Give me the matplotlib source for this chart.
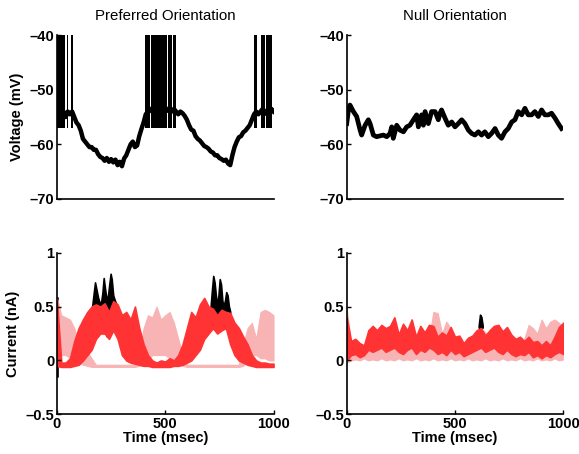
import numpy as np
import matplotlib
matplotlib.use("Agg")
import matplotlib.pyplot as plt

plt.rcParams['font.family'] = ['Liberation Sans', 'DejaVu Sans']

# ---- top left: preferred orientation, membrane voltage (mV), sampled every 10 ms
t_pref = np.arange(0, 1001, 10)
v_pref = [-55, -54, -55, -54, -55, -54, -54.5, -54, -55, -56,
          -56.5, -57.5, -59, -59.5, -60, -60.5, -60.5, -61, -61, -61.8,
          -62.3, -62.5, -63, -62.5, -63.2, -62.7, -63.3, -62.8, -63.8, -63.2,
          -64, -62.6, -62, -61, -60, -59.5, -60.5, -60.2, -58.5, -57.2,
          -56, -54.5, -54, -53.5, -54, -54.5, -54, -53.5, -54, -54.5,
          -54, -53.5, -54, -54, -53.5, -54, -54.5, -54, -54.3, -54.8,
          -55.5, -56.5, -57.3, -57.5, -58.5, -59, -59.3, -59.8, -60.3, -60.5,
          -60.8, -61.3, -61.5, -62, -62, -62.5, -62.7, -63, -62.8, -63.5,
          -63.8, -62, -60.5, -59.5, -58.7, -58.5, -57.8, -57.5, -57, -56.5,
          -55.5, -54.5, -54, -54.5, -54, -53.5, -54, -54.5, -54, -53.5,
          -54]
# spike bursts (ms): spikes run from reset level up past the -40 clip
burst_start = [0, 47, 63, 407, 432, 514, 537, 912, 940, 966]
burst_end = [37, 52, 72, 428, 508, 531, 551, 924, 962, 995]
spike_floor = -57
spike_top = -40

# ---- top right: null orientation voltage
t_null = [0, 8, 15, 31, 46, 62, 69, 85, 100, 108, 123, 138, 169, 185, 200, 208,
          215, 231, 246, 262, 277, 292, 308, 323, 331, 346, 354, 362, 377, 392,
          408, 423, 431, 438, 454, 469, 485, 500, 515, 531, 546, 562, 577, 592,
          608, 623, 638, 654, 669, 685, 700, 715, 731, 746, 762, 777, 792, 808,
          823, 838, 854, 869, 885, 900, 915, 931, 946, 962, 977, 992]
v_null = [-56.2, -53.7, -52.8, -54, -54.9, -57.4, -58.3, -56.5, -55.5, -56.2,
          -58.3, -58.6, -58.3, -58.6, -58, -56.8, -58.9, -56.5, -57.4, -57.7,
          -56.8, -56.5, -55.5, -54.6, -56.8, -54.6, -56.5, -54, -56.2, -54,
          -54, -55.5, -54.3, -53.7, -55.2, -56.5, -55.9, -56.8, -56.2, -55.5,
          -56.2, -57.4, -58, -58.3, -57.7, -58.3, -57.7, -58.6, -58, -57.1,
          -58.3, -58.9, -57.7, -57.1, -55.9, -55.5, -54, -54.6, -53.4, -54.6,
          -54.6, -54, -54.9, -53.7, -54.6, -54.6, -54.3, -55.2, -56.2, -57.1]

# ---- bottom: synaptic currents (nA), band envelopes sampled every 20 ms
t_cur = np.arange(0, 1001, 20)

pref_red_lo = [-0.05, -0.06, -0.06, -0.06, -0.05, -0.04, 0.0, 0.05, 0.1, 0.2,
               0.25, 0.25, 0.2, 0.28, 0.2, 0.05, 0.0, -0.02, -0.03, -0.04,
               -0.05, -0.05, -0.06, -0.06, -0.06, -0.06, -0.06, -0.05, -0.05, -0.04,
               -0.02, 0.0, 0.05, 0.1, 0.2, 0.25, 0.3, 0.25, 0.28, 0.3,
               0.15, 0.05, 0.0, -0.02, -0.04, -0.05, -0.06, -0.06, -0.06, -0.06,
               -0.06]
pref_red_hi = [0.55, -0.02, -0.02, 0.02, 0.18, 0.30, 0.38, 0.45, 0.50, 0.52,
               0.50, 0.53, 0.45, 0.55, 0.52, 0.42, 0.45, 0.38, 0.50, 0.30,
               0.15, 0.05, 0.0, -0.02, 0.0, -0.01, 0.02, 0.0, 0.05, 0.15,
               0.30, 0.45, 0.40, 0.52, 0.58, 0.50, 0.48, 0.42, 0.47, 0.45,
               0.44, 0.35, 0.30, 0.22, 0.15, 0.05, 0.0, -0.02, -0.02, -0.03,
               -0.03]
pref_pink_lo = [0.0, 0.05, 0.05, 0.02, 0.0, -0.02, -0.04, -0.05, -0.06, -0.06,
                -0.06, -0.06, -0.06, -0.06, -0.06, -0.06, -0.06, -0.06, -0.06, -0.05,
                -0.04, 0.0, 0.05, 0.05, 0.05, 0.05, 0.02, 0.0, -0.03, -0.05,
                -0.06, -0.06, -0.06, -0.06, -0.06, -0.06, -0.06, -0.06, -0.06, -0.06,
                -0.06, -0.06, -0.06, -0.05, 0.0, 0.05, 0.05, 0.02, 0.02, 0.0,
                0.0]
pref_pink_hi = [0.58, 0.42, 0.40, 0.38, 0.30, 0.15, 0.10, 0.08, 0.02, -0.04,
                -0.04, -0.04, -0.04, -0.04, -0.04, -0.04, -0.04, -0.04, -0.04, 0.10,
                0.30, 0.42, 0.40, 0.50, 0.38, 0.42, 0.45, 0.35, 0.20, 0.05,
                -0.04, -0.04, -0.04, -0.04, -0.04, -0.04, -0.04, -0.04, -0.04, -0.04,
                -0.04, -0.04, -0.04, 0.15, 0.30, 0.35, 0.20, 0.45, 0.47, 0.45,
                0.42]
# net current, only visible where it pokes out of the excitatory band
pref_black_t = [0, 4, np.nan,
                165, 172, 178, 185, 192, 198, 205, 212, 218, 225, 232, 238, 245,
                250, 255, 262, 270, 280, np.nan,
                712, 718, 724, 730, 736, 742, 748, 754, 760, 766, 772, 778, 784,
                790, 796, 802]
pref_black_lo = [-0.15, -0.15, np.nan,
                 0.45, 0.45, 0.45, 0.45, 0.45, 0.45, 0.45, 0.45, 0.40, 0.30, 0.22,
                 0.22, 0.40, 0.45, 0.45, 0.45, 0.45, 0.45, np.nan,
                 0.45, 0.45, 0.45, 0.42, 0.38, 0.35, 0.35, 0.40, 0.45, 0.45, 0.45,
                 0.45, 0.45, 0.45, 0.45, 0.42]
pref_black_hi = [0.58, 0.58, np.nan,
                 0.50, 0.62, 0.72, 0.65, 0.58, 0.54, 0.52, 0.62, 0.76, 0.65, 0.55,
                 0.60, 0.72, 0.80, 0.75, 0.60, 0.55, 0.50, np.nan,
                 0.50, 0.65, 0.78, 0.72, 0.60, 0.50, 0.60, 0.75, 0.70, 0.55, 0.50,
                 0.55, 0.63, 0.60, 0.50, 0.45]

null_red_lo = [0.0, 0.05, 0.06, 0.03, 0.05, 0.10, 0.08, 0.10, 0.12, 0.08,
               0.10, 0.12, 0.08, 0.06, 0.10, 0.12, 0.06, 0.10, 0.08, 0.12,
               0.10, 0.06, 0.08, 0.05, 0.10, 0.06, 0.08, 0.04, 0.06, 0.08,
               0.10, 0.12, 0.08, 0.10, 0.12, 0.08, 0.06, 0.10, 0.06, 0.04,
               0.06, 0.05, 0.08, 0.03, 0.05, 0.02, 0.05, 0.03, 0.06, 0.08,
               0.06]
null_red_hi = [0.40, 0.18, 0.20, 0.16, 0.14, 0.28, 0.32, 0.28, 0.33, 0.30,
               0.32, 0.40, 0.24, 0.34, 0.28, 0.38, 0.22, 0.32, 0.26, 0.33,
               0.32, 0.22, 0.26, 0.23, 0.31, 0.22, 0.23, 0.16, 0.21, 0.23,
               0.28, 0.30, 0.23, 0.28, 0.32, 0.33, 0.27, 0.31, 0.24, 0.20,
               0.22, 0.18, 0.22, 0.17, 0.18, 0.14, 0.18, 0.14, 0.22, 0.31,
               0.35]
null_pink_lo = [-0.02, 0.0, 0.01, 0.0, 0.02, 0.0, 0.01, 0.0, 0.02, 0.0,
                0.01, 0.0, 0.02, 0.0, 0.01, 0.0, 0.02, 0.0, 0.01, 0.0,
                0.02, 0.0, 0.01, 0.0, 0.02, 0.0, 0.01, 0.0, 0.02, 0.0,
                0.01, 0.0, 0.02, 0.0, 0.01, 0.0, 0.02, 0.0, 0.01, 0.0,
                0.02, 0.0, 0.01, 0.0, 0.02, 0.0, 0.01, 0.0, 0.02, 0.0,
                0.01]
null_pink_hi = [0.48, 0.15, 0.12, 0.10, 0.12, 0.14, 0.12, 0.15, 0.12, 0.14,
                0.12, 0.15, 0.12, 0.14, 0.12, 0.15, 0.12, 0.14, 0.15, 0.20,
                0.45, 0.44, 0.25, 0.36, 0.30, 0.15, 0.14, 0.12, 0.15, 0.20,
                0.22, 0.30, 0.26, 0.22, 0.18, 0.16, 0.14, 0.20, 0.18, 0.15,
                0.14, 0.20, 0.33, 0.30, 0.25, 0.38, 0.30, 0.36, 0.38, 0.35,
                0.30]
null_black_t = [612, 618, 624, 630, np.nan, 677, 683]
null_black_lo = [0.30, 0.30, 0.30, 0.30, np.nan, 0.26, 0.26]
null_black_hi = [0.32, 0.42, 0.40, 0.32, np.nan, 0.29, 0.29]

RED = '#ff3333'
PINK = '#f8b4b4'

fig = plt.figure(figsize=(5.79, 4.54), dpi=100)
w = 0.374
ax_tl = fig.add_axes([0.0984, 0.5617, w, 0.361])
ax_tr = fig.add_axes([0.5988, 0.5617, w, 0.361])
ax_bl = fig.add_axes([0.0984, 0.0874, w, 0.356])
ax_br = fig.add_axes([0.5988, 0.0874, w, 0.356])


def style(ax):
    for s in ['top', 'right']:
        ax.spines[s].set_visible(False)
    for s in ['left', 'bottom']:
        ax.spines[s].set_linewidth(1.2)
    ax.tick_params(direction='in', length=3, width=1, labelsize=10.5, pad=2)
    ax.set_xlim(0, 1000)


# voltage panels
ax_tl.bar(burst_start, spike_top - spike_floor, bottom=spike_floor,
          width=np.array(burst_end) - np.array(burst_start), align='edge',
          color='black', linewidth=0)
ax_tl.plot(t_pref, v_pref, color='black', lw=3.2, solid_joinstyle='round')
ax_tr.plot(t_null, v_null, color='black', lw=3.4, solid_joinstyle='round')
for ax, title in [(ax_tl, 'Preferred Orientation'), (ax_tr, 'Null Orientation')]:
    ax.set_ylim(-70, -40)
    ax.set_yticks([-70, -60, -50, -40])
    ax.set_xticks([])
    style(ax)
    ax.set_yticklabels(['\u201370', '\u201360', '\u201350', '\u201340'], fontweight='bold')
    ax.set_title(title, fontsize=10.8, pad=11)
ax_tl.set_ylabel('Voltage (mV)', fontsize=10.5, fontweight='bold', labelpad=4)

# current panels
panels = [
    (ax_bl, pref_black_t, pref_black_lo, pref_black_hi, pref_pink_lo, pref_pink_hi,
     pref_red_lo, pref_red_hi),
    (ax_br, null_black_t, null_black_lo, null_black_hi, null_pink_lo, null_pink_hi,
     null_red_lo, null_red_hi),
]
for ax, bt, blo, bhi, plo, phi, rlo, rhi in panels:
    ax.fill_between(bt, blo, bhi, color='black', linewidth=1.2, edgecolor='black')
    ax.fill_between(t_cur, plo, phi, color=PINK, linewidth=0.8, edgecolor=PINK)
    ax.fill_between(t_cur, rlo, rhi, color=RED, linewidth=1.2, edgecolor=RED)
    ax.set_ylim(-0.5, 1)
    ax.set_yticks([-0.5, 0, 0.5, 1])
    ax.set_xticks([0, 500, 1000])
    style(ax)
    ax.set_yticklabels(['\u20130.5', '0', '0.5', '1'], fontweight='bold')
    ax.set_xticklabels(['0', '500', '1000'], fontweight='bold')
    ax.set_xlabel('Time (msec)', fontsize=10.5, fontweight='bold', labelpad=0)
ax_bl.set_ylabel('Current (nA)', fontsize=10.5, fontweight='bold', labelpad=4)

fig.savefig('out.png', dpi=100)
